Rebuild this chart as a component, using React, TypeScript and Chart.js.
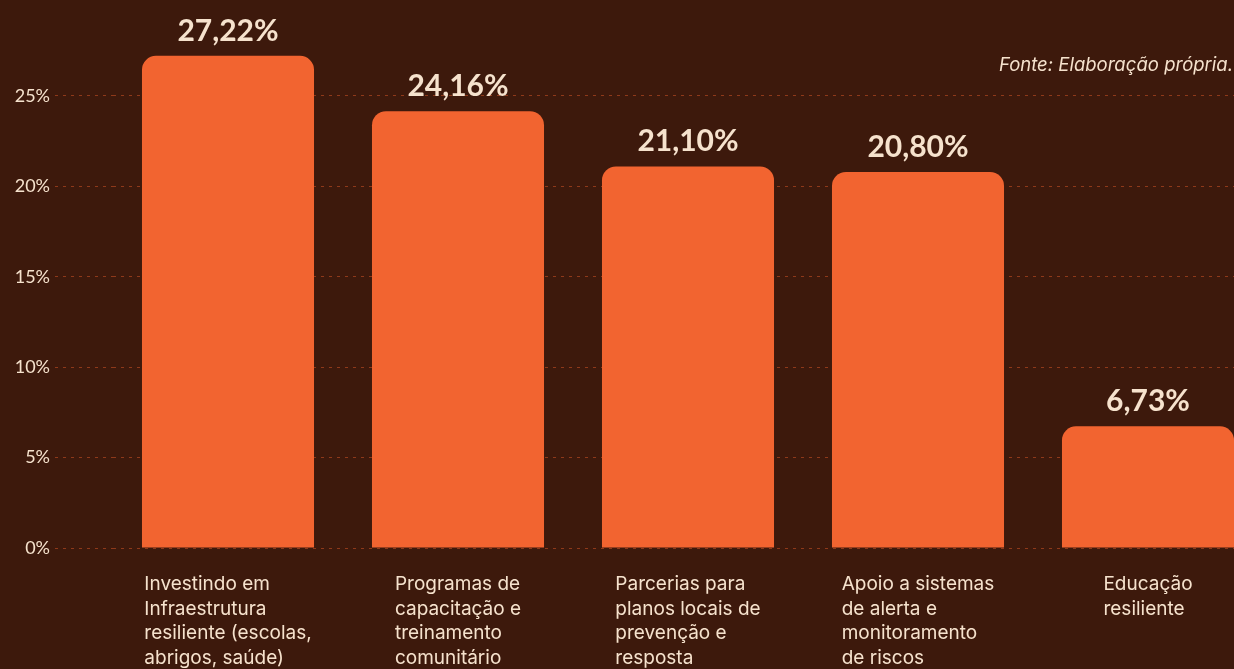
import React, { useEffect, useRef } from "react";
import { Chart, registerables } from "chart.js";

Chart.register(...registerables);

const categories: string[][] = [
  ["Investindo em", "Infraestrutura", "resiliente (escolas,", "abrigos, saúde)"],
  ["Programas de", "capacitação e", "treinamento", "comunitário"],
  ["Parcerias para", "planos locais de", "prevenção e", "resposta"],
  ["Apoio a sistemas", "de alerta e", "monitoramento", "de riscos"],
  ["Educação", "resiliente"],
];
const values: number[] = [27.22, 24.16, 21.1, 20.8, 6.73];
const yMin = 0;
const yMax = 29.2;
const yStep = 5;
const sourceText = "Fonte: Elaboração própria.";

const BG = "#3d190c";
const BAR = "#f26430";
const TEXT = "#f6e2cd";
const GRID = "#8e391a";
const FONT = "Lato, 'Noto Sans', sans-serif";
const FONT2 = "Inter, 'Noto Sans', sans-serif";

const fmt = (v: number) => v.toFixed(2).replace(".", ",") + "%";

const valueLabels = {
  id: "valueLabels",
  afterDatasetsDraw(chart: any) {
    const ctx = chart.ctx;
    const meta = chart.getDatasetMeta(0);
    ctx.save();
    ctx.font = `bold 30px ${FONT}`;
    ctx.fillStyle = TEXT;
    ctx.textAlign = "center";
    ctx.textBaseline = "alphabetic";
    meta.data.forEach((el: any, i: number) => {
      ctx.fillText(fmt(values[i]), el.x, el.y - 15);
    });
    ctx.restore();
  },
};

const categoryLabels = {
  id: "categoryLabels",
  afterDraw(chart: any) {
    const ctx = chart.ctx;
    const xs = chart.scales.x;
    const bottom = chart.chartArea.bottom;
    ctx.save();
    ctx.font = `19px ${FONT2}`;
    ctx.fillStyle = TEXT;
    ctx.textAlign = "left";
    ctx.textBaseline = "alphabetic";
    categories.forEach((lines, i) => {
      const px = xs.getPixelForTick(i);
      const w = Math.max(...lines.map((l) => ctx.measureText(l).width));
      const left = px - w / 2;
      lines.forEach((l, j) => {
        ctx.fillText(l, left, bottom + 42 + j * 24.5);
      });
    });
    ctx.restore();
  },
};

export default function App() {
  const ref = useRef<HTMLCanvasElement | null>(null);
  useEffect(() => {
    if (!ref.current) return;
    const chart = new Chart(ref.current, {
      type: "bar",
      data: {
        labels: categories.map((c) => c.join(" ")),
        datasets: [
          {
            data: values,
            backgroundColor: BAR,
            borderRadius: 14,
            borderSkipped: "start",
            categoryPercentage: 1,
            barPercentage: 0.748,
          },
        ],
      },
      options: {
        animation: false,
        responsive: true,
        maintainAspectRatio: false,
        layout: { padding: { top: 20, right: 7, bottom: 0, left: 0 } },
        plugins: {
          legend: { display: false },
          tooltip: { enabled: false },
          title: { display: false },
        },
        scales: {
          x: {
            grid: { display: false },
            border: { display: false },
            ticks: { display: false },
            afterFit: (s: any) => {
              s.height = 152;
            },
          },
          y: {
            min: yMin,
            max: yMax,
            border: { display: false, dash: [3, 5] },
            grid: {
              color: GRID,
              lineWidth: 1,
              drawTicks: true,
              tickLength: 58,
              tickColor: GRID,
              tickBorderDash: [3, 5],
            },
            ticks: {
              stepSize: yStep,
              includeBounds: false,
              padding: 5,
              color: TEXT,
              font: { family: FONT, size: 18 },
              callback: (v: any) => `${v}%`,
            },
            afterFit: (s: any) => {
              s.width = 113;
            },
          },
        },
      },
      plugins: [valueLabels, categoryLabels],
    });
    return () => chart.destroy();
  }, []);

  return (
    <div
      style={{
        position: "fixed",
        left: 0,
        top: 0,
        width: 1234,
        height: 669,
        overflow: "hidden",
        background: BG,
      }}
    >
      <div style={{ position: "absolute", left: 0, top: 0, width: 1270, height: 700 }}>
        <canvas ref={ref} />
      </div>
      <div
        style={{
          position: "absolute",
          right: 1,
          top: 53,
          font: `italic 18.5px ${FONT2}`,
          color: TEXT,
          whiteSpace: "nowrap",
        }}
      >
        {sourceText}
      </div>
    </div>
  );
}
